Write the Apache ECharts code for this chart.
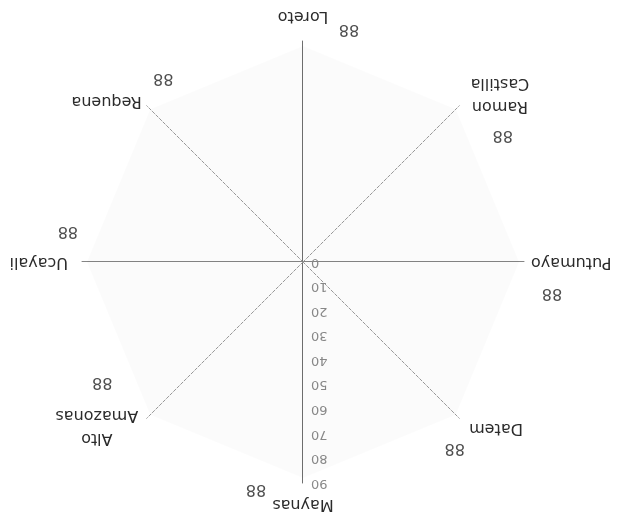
<!DOCTYPE html>
<html>
<head>
<meta charset="utf-8">
<script src="https://cdn.jsdelivr.net/npm/echarts@6/dist/echarts.min.js"></script>
<style>
html, body { margin: 0; padding: 0; background: #fff; }
/* the scanned reference is upside down, so the whole chart is turned */
#myChart { width: 630px; height: 519px; transform: rotate(180deg); }
</style>
</head>
<body>
<div id="myChart"></div>
<script>
// data
const provinces = ['Maynas', 'Datem', 'Putumayo', 'Ramon\nCastilla', 'Loreto', 'Requena', 'Ucayali', 'Alto\nAmazonas']
const values = [88, 88, 88, 88, 88, 88, 88, 88]
const axisMin = 0
const axisMax = 90
const axisStep = 10

// layout (offsets of the value labels, name gaps)
const labelOffsets = [[47, -11], [1, -33], [-33, -31], [-47, -26], [-46, 17], [-13, 31], [19, 31], [48, 33]]
const nameGaps = [10, 14, 7, 16, 13, 7, 14, 12]
const center = [327, 257]
const radius = 221
const font = 'DejaVu Sans'

const chart = echarts.init(document.getElementById('myChart'))

const indicators = provinces.map(function (p, i) {
  const diag = i % 2 === 1
  const ind = {
    name: p,
    min: axisMin,
    max: axisMax,
    nameGap: nameGaps[i],
    axisLine: {
      lineStyle: {
        color: diag ? '#9a9a9a' : (i % 4 === 0 ? '#6f6f6f' : '#858585'),
        type: diag ? [3, 2] : 'solid',
        width: 1
      }
    }
  }
  // only the first axis carries the scale
  if (i === 0) {
    ind.axisLabel = { show: true }
  }
  return ind
})

chart.setOption({
  backgroundColor: '#fff',
  animation: false,
  radar: {
    center: center,
    radius: radius,
    startAngle: 90,
    splitNumber: (axisMax - axisMin) / axisStep,
    indicator: indicators,
    axisName: {
      color: '#2b2b2b',
      fontSize: 16,
      fontFamily: font,
      formatter: function (name) {
        return name.split('\n').map(function (l) { return '{c|' + l + '}' }).join('\n')
      },
      rich: {
        c: { align: 'center', fontSize: 16, fontFamily: font, color: '#2b2b2b', lineHeight: 23 }
      }
    },
    axisLabel: {
      show: false,
      color: '#8a8a8a',
      fontSize: 13,
      fontFamily: font,
      margin: 8
    },
    axisTick: { show: false },
    splitLine: { show: false },
    splitArea: { show: false }
  },
  // hidden polar on top of the radar, used to place the value labels
  polar: { center: center, radius: radius },
  angleAxis: {
    type: 'category',
    data: provinces,
    startAngle: 90,
    clockwise: false,
    boundaryGap: false,
    show: false
  },
  radiusAxis: { min: axisMin, max: axisMax, show: false },
  series: [
    {
      type: 'radar',
      symbol: 'none',
      lineStyle: { width: 0, opacity: 0 },
      areaStyle: { color: 'rgba(0,0,0,0.025)' },
      data: [{ value: values, name: 'Loreto' }]
    },
    {
      type: 'scatter',
      coordinateSystem: 'polar',
      symbolSize: 0,
      itemStyle: { color: '#fff' },
      data: values.map(function (v, i) {
        return {
          value: [v, i],
          label: { offset: labelOffsets[i] }
        }
      }),
      label: {
        show: true,
        position: 'inside',
        formatter: function (p) { return p.value[0] },
        color: '#222',
        fontSize: 16,
        fontFamily: font
      }
    }
  ]
})

window.onresize = function () {
  chart.resize()
}
</script>
</body>
</html>
